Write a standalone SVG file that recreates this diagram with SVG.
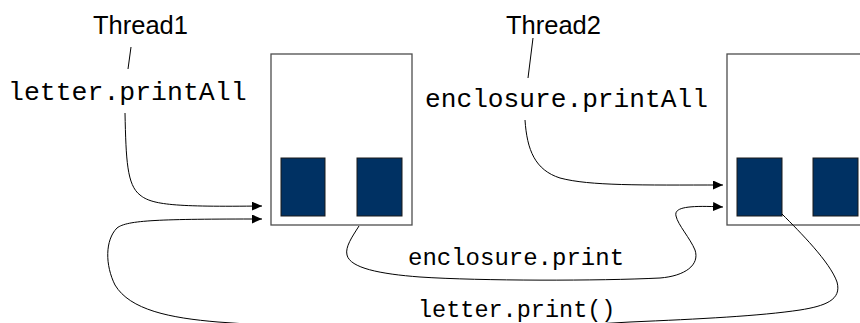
<svg xmlns="http://www.w3.org/2000/svg" width="860" height="323" viewBox="0 0 860 323">
  <style>
    .frame { fill: #ffffff; stroke: #4d4d4d; stroke-width: 1.3; }
    .slot { fill: #003163; stroke: #1a1a1a; stroke-width: 1; }
    .wire { fill: none; stroke: #000000; stroke-width: 1; }
    .tick { fill: none; stroke: #000000; stroke-width: 1; }
    .thread { font-family: "Liberation Sans", Arial, sans-serif; font-size: 25.5px; fill: #000000; }
    .code { font-family: "Liberation Mono", "Courier New", monospace; fill: #000000; }
  </style>
  <defs>
    <marker id="arrow" markerUnits="userSpaceOnUse" markerWidth="11" markerHeight="9" refX="10" refY="4.5" orient="auto">
      <path d="M0,0 L10,4.5 L0,9 Z" fill="#000000"/>
    </marker>
  </defs>
  <rect width="860" height="323" fill="#ffffff"/>

  <!-- object: letter -->
  <g id="letter">
    <rect class="frame" x="271" y="54" width="141" height="171"/>
    <rect class="slot" x="281" y="158" width="44" height="58"/>
    <rect class="slot" x="357" y="158" width="45" height="58"/>
  </g>

  <!-- object: enclosure -->
  <g id="enclosure">
    <rect class="frame" x="727" y="54" width="150" height="171"/>
    <rect class="slot" x="737" y="158" width="45" height="58"/>
    <rect class="slot" x="813" y="158" width="45" height="58"/>
  </g>

  <!-- thread labels -->
  <g id="thread1">
    <text class="thread" x="93" y="34">Thread1</text>
    <path class="tick" d="M131,47 L128,69"/>
    <text class="code" x="8" y="100" font-size="26.5">letter.printAll</text>
  </g>
  <g id="thread2">
    <text class="thread" x="506" y="34">Thread2</text>
    <path class="tick" d="M533,38 L528,78"/>
    <text class="code" x="425" y="107" font-size="26.2">enclosure.printAll</text>
  </g>

  <!-- calls between objects -->
  <g id="connectors">
    <path class="wire" marker-end="url(#arrow)" d="M125,113 C126,160 127,185 140,195 C152,205 175,207 262,206"/>
    <path class="wire" marker-end="url(#arrow)" d="M525,120 C527,150 535,170 560,178 C590,186 640,185 723,185"/>
    <path class="wire" marker-end="url(#arrow)" d="M359,226 C352,237 345,247 347,255 C350,268 380,274 420,277 C480,281 600,281 660,278 C685,276 700,265 695,250 C690,238 678,225 676,216 C674,208 685,205 723,207"/>
    <path class="wire" marker-end="url(#arrow)" d="M782,214 C800,232 830,262 837,282 C842,300 825,306 800,310 C760,316 700,319 630,322 C500,330 350,332 218,322 C170,318 130,310 115,285 C105,265 105,240 117,228 C127,220 160,219 262,219"/>
    <text class="code" x="408" y="265" font-size="24">enclosure.print</text>
    <text class="code" x="418" y="317" font-size="23.5">letter.print()</text>
  </g>
</svg>
